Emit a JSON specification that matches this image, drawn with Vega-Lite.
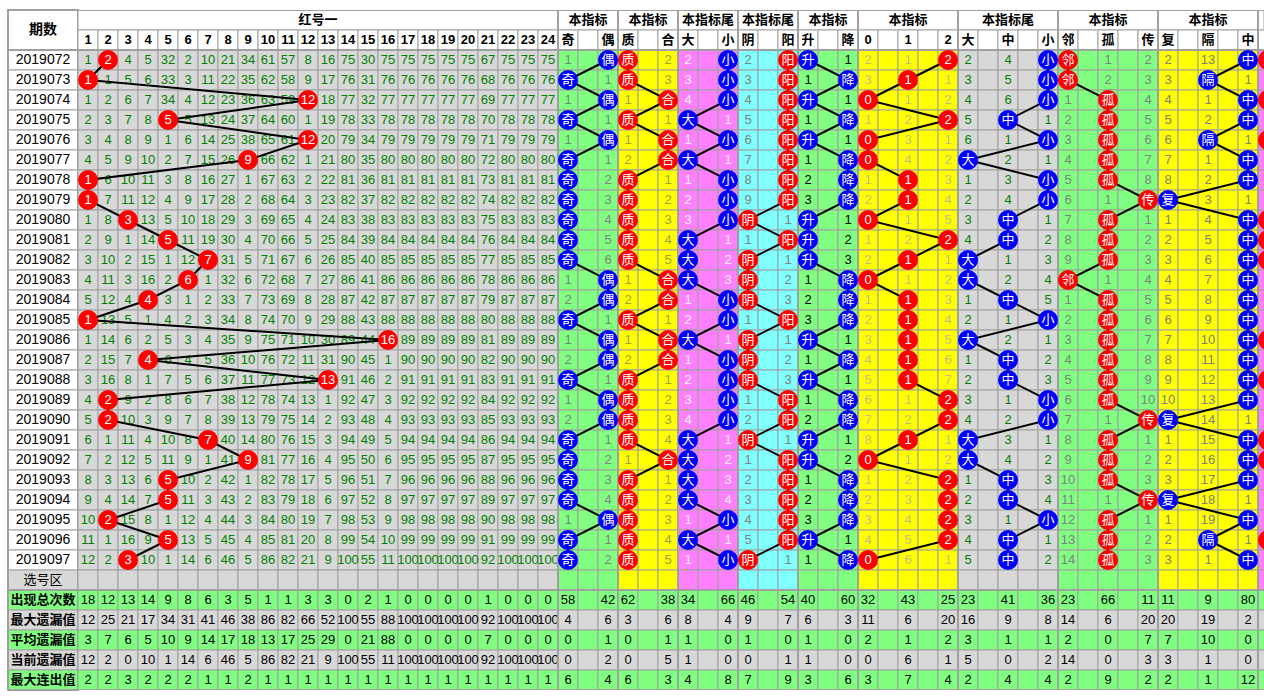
{
"$schema":"https://vega.github.io/schema/vega-lite/v6.json",
"padding":{"left":7,"top":9,"right":0,"bottom":0},
"background":"#ffffff",
"spacing":0,
"bounds":"flush",
"config":{"view":{"stroke":null},"text":{"baseline":"middle"}},
"datasets":{
"rows":[{"p":"H1","k":"head"},{"p":"H2","k":"head"},{"p":"2019072","k":"period"},{"p":"2019073","k":"period"},{"p":"2019074","k":"period"},{"p":"2019075","k":"period"},{"p":"2019076","k":"period"},{"p":"2019077","k":"period"},{"p":"2019078","k":"period"},{"p":"2019079","k":"period"},{"p":"2019080","k":"period"},{"p":"2019081","k":"period"},{"p":"2019082","k":"period"},{"p":"2019083","k":"period"},{"p":"2019084","k":"period"},{"p":"2019085","k":"period"},{"p":"2019086","k":"period"},{"p":"2019087","k":"period"},{"p":"2019088","k":"period"},{"p":"2019089","k":"period"},{"p":"2019090","k":"period"},{"p":"2019091","k":"period"},{"p":"2019092","k":"period"},{"p":"2019093","k":"period"},{"p":"2019094","k":"period"},{"p":"2019095","k":"period"},{"p":"2019096","k":"period"},{"p":"2019097","k":"period"},{"p":"选号区","k":"select"},{"p":"出现总次数","k":"stat"},{"p":"最大遗漏值","k":"stat"},{"p":"平均遗漏值","k":"stat"},{"p":"当前遗漏值","k":"stat"},{"p":"最大连出值","k":"stat"}],
"cols":[{"c":1,"g":"红"},{"c":2,"g":"红"},{"c":3,"g":"红"},{"c":4,"g":"红"},{"c":5,"g":"红"},{"c":6,"g":"红"},{"c":7,"g":"红"},{"c":8,"g":"红"},{"c":9,"g":"红"},{"c":10,"g":"红"},{"c":11,"g":"红"},{"c":12,"g":"红"},{"c":13,"g":"红"},{"c":14,"g":"红"},{"c":15,"g":"红"},{"c":16,"g":"红"},{"c":17,"g":"红"},{"c":18,"g":"红"},{"c":19,"g":"红"},{"c":20,"g":"红"},{"c":21,"g":"红"},{"c":22,"g":"红"},{"c":23,"g":"红"},{"c":24,"g":"红"},{"c":25,"g":"奇偶"},{"c":26,"g":"奇偶"},{"c":27,"g":"奇偶"},{"c":28,"g":"质合"},{"c":29,"g":"质合"},{"c":30,"g":"质合"},{"c":31,"g":"大小"},{"c":32,"g":"大小"},{"c":33,"g":"大小"},{"c":34,"g":"阴阳"},{"c":35,"g":"阴阳"},{"c":36,"g":"阴阳"},{"c":37,"g":"升降"},{"c":38,"g":"升降"},{"c":39,"g":"升降"},{"c":40,"g":"012"},{"c":41,"g":"012"},{"c":42,"g":"012"},{"c":43,"g":"012"},{"c":44,"g":"012"},{"c":45,"g":"大中小"},{"c":46,"g":"大中小"},{"c":47,"g":"大中小"},{"c":48,"g":"大中小"},{"c":49,"g":"大中小"},{"c":50,"g":"邻孤传"},{"c":51,"g":"邻孤传"},{"c":52,"g":"邻孤传"},{"c":53,"g":"邻孤传"},{"c":54,"g":"邻孤传"},{"c":55,"g":"复隔中"},{"c":56,"g":"复隔中"},{"c":57,"g":"复隔中"},{"c":58,"g":"复隔中"},{"c":59,"g":"复隔中"},{"c":60,"g":"下"}],
"tbl":[
{"p":"H2","v":["1","2","3","4","5","6","7","8","9","10","11","12","13","14","15","16","17","18","19","20","21","22","23","24","奇",null,"偶","质",null,"合","大",null,"小","阴",null,"阳","升",null,"降","0",null,"1",null,"2","大",null,"中",null,"小","邻",null,"孤",null,"传","复",null,"隔",null,"中",null]},
{"p":"2019072","v":[1,null,4,5,32,2,10,21,34,61,57,8,16,75,30,75,75,75,75,75,67,75,75,75,1,null,null,null,null,2,2,null,null,2,null,null,null,null,1,2,null,1,null,null,2,null,4,null,null,null,null,1,null,2,2,null,13,null,null,null]},
{"p":"2019073","v":[null,1,5,6,33,3,11,22,35,62,58,9,17,76,31,76,76,76,76,76,68,76,76,76,null,null,1,null,null,3,3,null,null,3,null,null,1,null,null,3,null,null,null,1,3,null,5,null,null,null,null,2,null,3,3,null,null,null,1,null]},
{"p":"2019074","v":[1,2,6,7,34,4,12,23,36,63,59,null,18,77,32,77,77,77,77,77,69,77,77,77,1,null,null,1,null,null,4,null,null,4,null,null,null,null,1,null,null,1,null,2,4,null,6,null,null,1,null,null,null,4,4,null,1,null,null,null]},
{"p":"2019075","v":[2,3,7,8,null,5,13,24,37,64,60,1,19,78,33,78,78,78,78,78,70,78,78,78,null,null,1,null,null,1,null,null,1,5,null,null,1,null,null,1,null,2,null,null,5,null,null,null,1,2,null,null,null,5,5,null,2,null,null,null]},
{"p":"2019076","v":[3,4,8,9,1,6,14,25,38,65,61,null,20,79,34,79,79,79,79,79,71,79,79,79,1,null,null,1,null,null,1,null,null,6,null,null,null,null,1,null,null,3,null,1,6,null,1,null,null,3,null,null,null,6,6,null,null,null,1,null]},
{"p":"2019077","v":[4,5,9,10,2,7,15,26,null,66,62,1,21,80,35,80,80,80,80,80,72,80,80,80,null,null,1,2,null,null,null,null,1,7,null,null,1,null,null,null,null,4,null,2,null,null,2,null,1,4,null,null,null,7,7,null,1,null,null,null]},
{"p":"2019078","v":[null,6,10,11,3,8,16,27,1,67,63,2,22,81,36,81,81,81,81,81,73,81,81,81,null,null,2,null,null,1,1,null,null,8,null,null,2,null,null,1,null,null,null,3,1,null,3,null,null,5,null,null,null,8,8,null,2,null,null,null]},
{"p":"2019079","v":[null,7,11,12,4,9,17,28,2,68,64,3,23,82,37,82,82,82,82,82,74,82,82,82,null,null,3,null,null,2,2,null,null,9,null,null,3,null,null,2,null,null,null,4,2,null,4,null,null,6,null,1,null,null,null,null,3,null,1,null]},
{"p":"2019080","v":[1,8,null,13,5,10,18,29,3,69,65,4,24,83,38,83,83,83,83,83,75,83,83,83,null,null,4,null,null,3,3,null,null,null,null,1,null,null,1,null,null,1,null,5,3,null,null,null,1,7,null,null,null,1,1,null,4,null,null,null]},
{"p":"2019081","v":[2,9,1,14,null,11,19,30,4,70,66,5,25,84,39,84,84,84,84,84,76,84,84,84,null,null,5,null,null,4,null,null,1,1,null,null,null,null,2,1,null,2,null,null,4,null,null,null,2,8,null,null,null,2,2,null,5,null,null,null]},
{"p":"2019082","v":[3,10,2,15,1,12,null,31,5,71,67,6,26,85,40,85,85,85,85,85,77,85,85,85,null,null,6,null,null,5,null,null,2,null,null,1,null,null,3,2,null,null,null,1,null,null,1,null,3,9,null,null,null,3,3,null,6,null,null,null]},
{"p":"2019083","v":[4,11,3,16,2,null,1,32,6,72,68,7,27,86,41,86,86,86,86,86,78,86,86,86,1,null,null,1,null,null,null,null,3,null,null,2,1,null,null,null,null,1,null,2,null,null,2,null,4,null,null,1,null,4,4,null,7,null,null,null]},
{"p":"2019084","v":[5,12,4,null,3,1,2,33,7,73,69,8,28,87,42,87,87,87,87,87,79,87,87,87,2,null,null,2,null,null,1,null,null,null,null,3,2,null,null,1,null,null,null,3,1,null,null,null,5,1,null,null,null,5,5,null,8,null,null,null]},
{"p":"2019085","v":[null,13,5,1,4,2,3,34,8,74,70,9,29,88,43,88,88,88,88,88,80,88,88,88,null,null,1,null,null,1,2,null,null,1,null,null,3,null,null,2,null,null,null,4,2,null,1,null,null,2,null,null,null,6,6,null,9,null,null,null]},
{"p":"2019086","v":[1,14,6,2,5,3,4,35,9,75,71,10,30,89,44,null,89,89,89,89,81,89,89,89,1,null,null,1,null,null,null,null,1,null,null,1,null,null,1,3,null,null,null,5,null,null,2,null,1,3,null,null,null,7,7,null,10,null,null,null]},
{"p":"2019087","v":[2,15,7,null,6,4,5,36,10,76,72,11,31,90,45,1,90,90,90,90,82,90,90,90,2,null,null,2,null,null,1,null,null,null,null,2,1,null,null,4,null,null,null,6,1,null,null,null,2,4,null,null,null,8,8,null,11,null,null,null]},
{"p":"2019088","v":[3,16,8,1,7,5,6,37,11,77,73,12,null,91,46,2,91,91,91,91,83,91,91,91,null,null,1,null,null,1,2,null,null,null,null,3,null,null,1,5,null,null,null,7,2,null,null,null,3,5,null,null,null,9,9,null,12,null,null,null]},
{"p":"2019089","v":[4,null,9,2,8,6,7,38,12,78,74,13,1,92,47,3,92,92,92,92,84,92,92,92,1,null,null,null,null,2,3,null,null,1,null,null,1,null,null,6,null,1,null,null,3,null,1,null,null,6,null,null,null,10,10,null,13,null,null,null]},
{"p":"2019090","v":[5,null,10,3,9,7,8,39,13,79,75,14,2,93,48,4,93,93,93,93,85,93,93,93,2,null,null,null,null,3,4,null,null,2,null,null,2,null,null,7,null,2,null,null,4,null,2,null,null,7,null,1,null,null,null,null,14,null,1,null]},
{"p":"2019091","v":[6,1,11,4,10,8,null,40,14,80,76,15,3,94,49,5,94,94,94,94,86,94,94,94,null,null,1,null,null,4,null,null,1,null,null,1,null,null,1,8,null,null,null,1,null,null,3,null,1,8,null,null,null,1,1,null,15,null,null,null]},
{"p":"2019092","v":[7,2,12,5,11,9,1,41,null,81,77,16,4,95,50,6,95,95,95,95,87,95,95,95,null,null,2,1,null,null,null,null,2,1,null,null,null,null,2,null,null,1,null,2,null,null,4,null,2,9,null,null,null,2,2,null,16,null,null,null]},
{"p":"2019093","v":[8,3,13,6,null,10,2,42,1,82,78,17,5,96,51,7,96,96,96,96,88,96,96,96,null,null,3,null,null,1,null,null,3,2,null,null,1,null,null,1,null,2,null,null,1,null,null,null,3,10,null,null,null,3,3,null,17,null,null,null]},
{"p":"2019094","v":[9,4,14,7,null,11,3,43,2,83,79,18,6,97,52,8,97,97,97,97,89,97,97,97,null,null,4,null,null,2,null,null,4,3,null,null,2,null,null,2,null,3,null,null,2,null,null,null,4,11,null,1,null,null,null,null,18,null,1,null]},
{"p":"2019095","v":[10,null,15,8,1,12,4,44,3,84,80,19,7,98,53,9,98,98,98,98,90,98,98,98,1,null,null,null,null,3,1,null,null,4,null,null,3,null,null,3,null,4,null,null,3,null,1,null,null,12,null,null,null,1,1,null,19,null,null,null]},
{"p":"2019096","v":[11,1,16,9,null,13,5,45,4,85,81,20,8,99,54,10,99,99,99,99,91,99,99,99,null,null,1,null,null,4,null,null,1,5,null,null,null,null,1,4,null,5,null,null,4,null,null,null,1,13,null,null,null,2,2,null,null,null,1,null]},
{"p":"2019097","v":[12,2,null,10,1,14,6,46,5,86,82,21,9,100,55,11,100,100,100,100,92,100,100,100,null,null,2,null,null,5,1,null,null,null,null,1,1,null,null,null,null,6,null,1,5,null,null,null,2,14,null,null,null,3,3,null,1,null,null,null]},
{"p":"选号区","v":[null,null,null,null,null,null,null,null,null,null,null,null,null,null,null,null,null,null,null,null,null,null,null,null,null,null,null,null,null,null,null,null,null,null,null,null,null,null,null,null,null,null,null,null,null,null,null,null,null,null,null,null,null,null,null,null,null,null,null,null]},
{"p":"出现总次数","v":[18,12,13,14,9,8,6,3,5,1,1,3,3,0,2,1,0,0,0,0,1,0,0,0,58,null,42,62,null,38,34,null,66,46,null,54,40,null,60,32,null,43,null,25,23,null,41,null,36,23,null,66,null,11,11,null,9,null,80,null]},
{"p":"最大遗漏值","v":[12,25,21,17,34,31,41,46,38,86,82,66,52,100,55,88,100,100,100,100,92,100,100,100,4,null,6,3,null,6,8,null,4,9,null,7,6,null,3,11,null,6,null,20,16,null,9,null,8,14,null,6,null,20,20,null,19,null,2,null]},
{"p":"平均遗漏值","v":[3,7,6,5,10,9,14,17,18,13,17,25,29,0,21,88,0,0,0,0,7,0,0,0,0,null,1,0,null,1,1,null,0,1,null,0,1,null,0,2,null,1,null,2,3,null,1,null,1,2,null,0,null,7,7,null,10,null,0,null]},
{"p":"当前遗漏值","v":[12,2,0,10,1,14,6,46,5,86,82,21,9,100,55,11,100,100,100,100,92,100,100,100,0,null,2,0,null,5,1,null,0,0,null,1,1,null,0,0,null,6,null,1,5,null,0,null,2,14,null,0,null,3,3,null,1,null,0,null]},
{"p":"最大连出值","v":[2,2,3,2,2,2,1,1,2,1,1,1,1,1,1,1,1,1,1,1,1,1,1,1,6,null,4,6,null,3,4,null,8,7,null,9,3,null,6,3,null,7,null,4,2,null,4,null,4,2,null,9,null,2,2,null,1,null,12,null]}
],
"hits":[
{"p":"2019072","hc":[2,27,28,33,36,37,44,49,50,59,60],"ht":["2","偶","质","小","阳","升","2","小","邻","中",""]},
{"p":"2019073","hc":[1,25,28,33,36,39,42,49,50,57],"ht":["1","奇","质","小","阳","降","1","小","邻","隔"]},
{"p":"2019074","hc":[12,27,30,33,36,37,40,49,52,59,60],"ht":["12","偶","合","小","阳","升","0","小","孤","中",""]},
{"p":"2019075","hc":[5,25,28,31,36,39,44,47,52,59],"ht":["5","奇","质","大","阳","降","2","中","孤","中"]},
{"p":"2019076","hc":[12,27,30,33,36,37,40,49,52,57,60],"ht":["12","偶","合","小","阳","升","0","小","孤","隔",""]},
{"p":"2019077","hc":[9,25,30,31,36,39,40,45,52,59],"ht":["9","奇","合","大","阳","降","0","大","孤","中"]},
{"p":"2019078","hc":[1,25,28,33,36,39,42,49,52,59],"ht":["1","奇","质","小","阳","降","1","小","孤","中"]},
{"p":"2019079","hc":[1,25,28,33,36,39,42,49,54,55],"ht":["1","奇","质","小","阳","降","1","小","传","复"]},
{"p":"2019080","hc":[3,25,28,33,34,37,40,47,52,59,60],"ht":["3","奇","质","小","阴","升","0","中","孤","中",""]},
{"p":"2019081","hc":[5,25,28,31,36,37,44,47,52,59,60],"ht":["5","奇","质","大","阳","升","2","中","孤","中",""]},
{"p":"2019082","hc":[7,25,28,31,34,37,42,45,52,59,60],"ht":["7","奇","质","大","阴","升","1","大","孤","中",""]},
{"p":"2019083","hc":[6,27,30,31,34,39,40,45,50,59],"ht":["6","偶","合","大","阴","降","0","大","邻","中"]},
{"p":"2019084","hc":[4,27,30,33,34,39,42,47,52,59],"ht":["4","偶","合","小","阴","降","1","中","孤","中"]},
{"p":"2019085","hc":[1,25,28,33,36,39,42,49,52,59],"ht":["1","奇","质","小","阳","降","1","小","孤","中"]},
{"p":"2019086","hc":[16,27,30,31,34,37,42,45,52,59,60],"ht":["16","偶","合","大","阴","升","1","大","孤","中",""]},
{"p":"2019087","hc":[4,27,30,33,34,39,42,47,52,59],"ht":["4","偶","合","小","阴","降","1","中","孤","中"]},
{"p":"2019088","hc":[13,25,28,33,34,37,42,47,52,59,60],"ht":["13","奇","质","小","阴","升","1","中","孤","中",""]},
{"p":"2019089","hc":[2,27,28,33,36,39,44,49,52,59],"ht":["2","偶","质","小","阳","降","2","小","孤","中"]},
{"p":"2019090","hc":[2,27,28,33,36,39,44,49,54,55],"ht":["2","偶","质","小","阳","降","2","小","传","复"]},
{"p":"2019091","hc":[7,25,28,31,34,37,42,45,52,59,60],"ht":["7","奇","质","大","阴","升","1","大","孤","中",""]},
{"p":"2019092","hc":[9,25,30,31,36,37,40,45,52,59,60],"ht":["9","奇","合","大","阳","升","0","大","孤","中",""]},
{"p":"2019093","hc":[5,25,28,31,36,39,44,47,52,59],"ht":["5","奇","质","大","阳","降","2","中","孤","中"]},
{"p":"2019094","hc":[5,25,28,31,36,39,44,47,54,55],"ht":["5","奇","质","大","阳","降","2","中","传","复"]},
{"p":"2019095","hc":[2,27,28,33,36,39,44,49,52,59],"ht":["2","偶","质","小","阳","降","2","小","孤","中"]},
{"p":"2019096","hc":[5,25,28,31,36,37,44,47,52,57,60],"ht":["5","奇","质","大","阳","升","2","中","孤","隔",""]},
{"p":"2019097","hc":[3,25,28,33,34,39,40,47,52,59],"ht":["3","奇","质","小","阴","降","0","中","孤","中"]}
]
},
"hconcat":[
{
"width":70,"height":680,
"layer":[
{"data":{"name":"rows"},
 "mark":{"type":"rect","stroke":"#A0A0A0","strokeWidth":1},
 "encoding":{
  "y":{"field":"p","type":"ordinal","scale":{"type":"band","domain":["H1","H2","2019072","2019073","2019074","2019075","2019076","2019077","2019078","2019079","2019080","2019081","2019082","2019083","2019084","2019085","2019086","2019087","2019088","2019089","2019090","2019091","2019092","2019093","2019094","2019095","2019096","2019097","选号区","出现总次数","最大遗漏值","平均遗漏值","当前遗漏值","最大连出值"],"paddingInner":0,"paddingOuter":0},"axis":null},
  "fill":{"condition":[{"test":"datum.k=='period'||datum.k=='head'","value":"#FFFFFF"},{"test":"datum.p=='出现总次数'||datum.p=='平均遗漏值'||datum.p=='最大连出值'","value":"#80FF80"}],"value":"#D8D8D8"},
  "strokeOpacity":{"condition":{"test":"datum.k=='head'","value":0},"value":1}}},
{"data":{"name":"rows"},"transform":[{"filter":"datum.k=='period'"}],
 "mark":{"type":"text","font":"Liberation Sans","fontSize":14,"color":"#000000"},
 "encoding":{"y":{"field":"p","type":"ordinal","scale":{"type":"band","domain":["H1","H2","2019072","2019073","2019074","2019075","2019076","2019077","2019078","2019079","2019080","2019081","2019082","2019083","2019084","2019085","2019086","2019087","2019088","2019089","2019090","2019091","2019092","2019093","2019094","2019095","2019096","2019097","选号区","出现总次数","最大遗漏值","平均遗漏值","当前遗漏值","最大连出值"],"paddingInner":0,"paddingOuter":0},"axis":null},"text":{"field":"p"}}},
{"data":{"name":"rows"},"transform":[{"filter":"datum.k=='select'"}],
 "mark":{"type":"text","font":"Noto Sans CJK SC","fontSize":13,"color":"#000000"},
 "encoding":{"y":{"field":"p","type":"ordinal","scale":{"type":"band","domain":["H1","H2","2019072","2019073","2019074","2019075","2019076","2019077","2019078","2019079","2019080","2019081","2019082","2019083","2019084","2019085","2019086","2019087","2019088","2019089","2019090","2019091","2019092","2019093","2019094","2019095","2019096","2019097","选号区","出现总次数","最大遗漏值","平均遗漏值","当前遗漏值","最大连出值"],"paddingInner":0,"paddingOuter":0},"axis":null},"text":{"field":"p"}}},
{"data":{"name":"rows"},"transform":[{"filter":"datum.k=='stat'"}],
 "mark":{"type":"text","font":"Noto Sans CJK SC","fontSize":13,"fontWeight":"bold","color":"#000000"},
 "encoding":{"y":{"field":"p","type":"ordinal","scale":{"type":"band","domain":["H1","H2","2019072","2019073","2019074","2019075","2019076","2019077","2019078","2019079","2019080","2019081","2019082","2019083","2019084","2019085","2019086","2019087","2019088","2019089","2019090","2019091","2019092","2019093","2019094","2019095","2019096","2019097","选号区","出现总次数","最大遗漏值","平均遗漏值","当前遗漏值","最大连出值"],"paddingInner":0,"paddingOuter":0},"axis":null},"text":{"field":"p"}}},
{"data":{"values":[{"p":"H1","t":"期数"}]},
 "mark":{"type":"text","font":"Noto Sans CJK SC","fontSize":14,"fontWeight":"bold","color":"#000000"},
 "encoding":{"y":{"field":"p","type":"ordinal","bandPosition":1,"scale":{"type":"band","domain":["H1","H2","2019072","2019073","2019074","2019075","2019076","2019077","2019078","2019079","2019080","2019081","2019082","2019083","2019084","2019085","2019086","2019087","2019088","2019089","2019090","2019091","2019092","2019093","2019094","2019095","2019096","2019097","选号区","出现总次数","最大遗漏值","平均遗漏值","当前遗漏值","最大连出值"],"paddingInner":0,"paddingOuter":0},"axis":null},"text":{"field":"t"}}},
{"data":{"values":[{"p":"2019072"},{"p":"出现总次数"}]},
 "mark":{"type":"rule","color":"#A0A0A0","strokeWidth":2},
 "encoding":{"y":{"field":"p","type":"ordinal","bandPosition":0,"scale":{"type":"band","domain":["H1","H2","2019072","2019073","2019074","2019075","2019076","2019077","2019078","2019079","2019080","2019081","2019082","2019083","2019084","2019085","2019086","2019087","2019088","2019089","2019090","2019091","2019092","2019093","2019094","2019095","2019096","2019097","选号区","出现总次数","最大遗漏值","平均遗漏值","当前遗漏值","最大连出值"],"paddingInner":0,"paddingOuter":0},"axis":null}}},
{"data":{"values":[{"p":"frame"}]},
 "mark":{"type":"rect","fillOpacity":0,"stroke":"#A0A0A0","strokeWidth":2},
 "encoding":{}}
]
},
{
"width":1186,"height":680,
"resolve":{"scale":{"fill":"independent","color":"independent"}},
"layer":[
{"data":{"values":[{"p":"H1"}]},
 "mark":{"type":"rect","fill":"#FFFFFF","stroke":"#A0A0A0","strokeWidth":1,"clip":true},
 "encoding":{"y":{"field":"p","type":"ordinal","scale":{"type":"band","domain":["H1","H2","2019072","2019073","2019074","2019075","2019076","2019077","2019078","2019079","2019080","2019081","2019082","2019083","2019084","2019085","2019086","2019087","2019088","2019089","2019090","2019091","2019092","2019093","2019094","2019095","2019096","2019097","选号区","出现总次数","最大遗漏值","平均遗漏值","当前遗漏值","最大连出值"],"paddingInner":0,"paddingOuter":0},"axis":null}}},
{"data":{"name":"tbl"},
 "transform":[{"flatten":["v"]},{"window":[{"op":"row_number","as":"c"}],"groupby":["p"]},{"lookup":"c","from":{"data":{"name":"cols"},"key":"c","fields":["g"]}}],
 "encoding":{
  "x":{"field":"c","type":"ordinal","scale":{"type":"band","domain":[1,2,3,4,5,6,7,8,9,10,11,12,13,14,15,16,17,18,19,20,21,22,23,24,25,26,27,28,29,30,31,32,33,34,35,36,37,38,39,40,41,42,43,44,45,46,47,48,49,50,51,52,53,54,55,56,57,58,59,60],"range":[0,1200],"paddingInner":0,"paddingOuter":0},"axis":null},
  "y":{"field":"p","type":"ordinal","scale":{"type":"band","domain":["H1","H2","2019072","2019073","2019074","2019075","2019076","2019077","2019078","2019079","2019080","2019081","2019082","2019083","2019084","2019085","2019086","2019087","2019088","2019089","2019090","2019091","2019092","2019093","2019094","2019095","2019096","2019097","选号区","出现总次数","最大遗漏值","平均遗漏值","当前遗漏值","最大连出值"],"paddingInner":0,"paddingOuter":0},"axis":null}},
 "layer":[
  {"mark":{"type":"rect","stroke":"#A0A0A0","strokeWidth":1,"clip":true},
   "encoding":{"fill":{"condition":[{"test":"datum.p=='H2'","value":"#FFFFFF"},{"test":"datum.p=='出现总次数'||datum.p=='平均遗漏值'||datum.p=='最大连出值'","value":"#80FF80"},{"test":"datum.p=='最大遗漏值'||datum.p=='当前遗漏值'","value":"#D8D8D8"}],"field":"g","type":"nominal","scale":{"domain":["红","奇偶","质合","大小","阴阳","升降","012","大中小","邻孤传","复隔中","下"],"range":["#D8D8D8","#80FF80","#FFFF00","#FF80FF","#80FFFF","#80FF80","#FFFF00","#D8D8D8","#80FF80","#FFFF00","#FF80FF"]},"legend":null}}},
  {"transform":[{"filter":"datum.p!='H2' && isValid(datum.v)"}],
   "mark":{"type":"text","font":"Liberation Sans Narrow, Liberation Sans","fontSize":13,"clip":true},
   "encoding":{"text":{"field":"v"},"color":{"condition":{"test":"datum.p=='出现总次数'||datum.p=='平均遗漏值'||datum.p=='最大连出值'||datum.p=='最大遗漏值'||datum.p=='当前遗漏值'","value":"#000000"},"field":"g","type":"nominal","scale":{"domain":["红","奇偶","质合","大小","阴阳","升降","012","大中小","邻孤传","复隔中","下"],"range":["#008000","#808080","#A09C50","#F4F4F4","#808080","#000000","#C4BC90","#008000","#808080","#808080","#808080"]},"legend":null}}},
  {"transform":[{"filter":"datum.p=='H2' && isValid(datum.v)"}],
   "mark":{"type":"text","font":"Liberation Sans, Noto Sans CJK SC","fontSize":13,"fontWeight":"bold","color":"#000000","clip":true},
   "encoding":{"text":{"field":"v"}}}
 ]},
{"data":{"values":[{"c":25},{"c":28},{"c":31},{"c":34},{"c":37},{"c":40},{"c":45},{"c":50},{"c":55},{"c":60}]},
 "mark":{"type":"rule","color":"#A0A0A0","strokeWidth":2,"clip":true},
 "encoding":{"x":{"field":"c","type":"ordinal","bandPosition":0,"scale":{"type":"band","domain":[1,2,3,4,5,6,7,8,9,10,11,12,13,14,15,16,17,18,19,20,21,22,23,24,25,26,27,28,29,30,31,32,33,34,35,36,37,38,39,40,41,42,43,44,45,46,47,48,49,50,51,52,53,54,55,56,57,58,59,60],"range":[0,1200],"paddingInner":0,"paddingOuter":0},"axis":null}}},
{"data":{"values":[{"p":"H1"},{"p":"2019072"},{"p":"出现总次数"}]},
 "mark":{"type":"rule","color":"#A0A0A0","strokeWidth":2,"clip":true},
 "encoding":{"y":{"field":"p","type":"ordinal","bandPosition":0,"scale":{"type":"band","domain":["H1","H2","2019072","2019073","2019074","2019075","2019076","2019077","2019078","2019079","2019080","2019081","2019082","2019083","2019084","2019085","2019086","2019087","2019088","2019089","2019090","2019091","2019092","2019093","2019094","2019095","2019096","2019097","选号区","出现总次数","最大遗漏值","平均遗漏值","当前遗漏值","最大连出值"],"paddingInner":0,"paddingOuter":0},"axis":null}}},
{"data":{"values":[{"p":"最大连出值"}]},
 "mark":{"type":"rule","color":"#A0A0A0","strokeWidth":2,"clip":true},
 "encoding":{"y":{"field":"p","type":"ordinal","bandPosition":1,"scale":{"type":"band","domain":["H1","H2","2019072","2019073","2019074","2019075","2019076","2019077","2019078","2019079","2019080","2019081","2019082","2019083","2019084","2019085","2019086","2019087","2019088","2019089","2019090","2019091","2019092","2019093","2019094","2019095","2019096","2019097","选号区","出现总次数","最大遗漏值","平均遗漏值","当前遗漏值","最大连出值"],"paddingInner":0,"paddingOuter":0},"axis":null}}},
{"data":{"values":[{"c":26,"p":"H1","t":"本指标"},{"c":29,"p":"H1","t":"本指标"},{"c":32,"p":"H1","t":"本指标尾"},{"c":35,"p":"H1","t":"本指标尾"},{"c":38,"p":"H1","t":"本指标"},{"c":42,"p":"H1","t":"本指标"},{"c":47,"p":"H1","t":"本指标尾"},{"c":52,"p":"H1","t":"本指标"},{"c":57,"p":"H1","t":"本指标"}]},
 "mark":{"type":"text","font":"Noto Sans CJK SC","fontSize":13,"fontWeight":"bold","color":"#000000"},
 "encoding":{
  "x":{"field":"c","type":"ordinal","scale":{"type":"band","domain":[1,2,3,4,5,6,7,8,9,10,11,12,13,14,15,16,17,18,19,20,21,22,23,24,25,26,27,28,29,30,31,32,33,34,35,36,37,38,39,40,41,42,43,44,45,46,47,48,49,50,51,52,53,54,55,56,57,58,59,60],"range":[0,1200],"paddingInner":0,"paddingOuter":0},"axis":null},
  "y":{"field":"p","type":"ordinal","scale":{"type":"band","domain":["H1","H2","2019072","2019073","2019074","2019075","2019076","2019077","2019078","2019079","2019080","2019081","2019082","2019083","2019084","2019085","2019086","2019087","2019088","2019089","2019090","2019091","2019092","2019093","2019094","2019095","2019096","2019097","选号区","出现总次数","最大遗漏值","平均遗漏值","当前遗漏值","最大连出值"],"paddingInner":0,"paddingOuter":0},"axis":null},
  "text":{"field":"t"}}},
{"data":{"values":[{"c":12,"p":"H1","t":"红号一"}]},
 "mark":{"type":"text","font":"Noto Sans CJK SC","fontSize":13,"fontWeight":"bold","color":"#000000"},
 "encoding":{
  "x":{"field":"c","type":"ordinal","bandPosition":1,"scale":{"type":"band","domain":[1,2,3,4,5,6,7,8,9,10,11,12,13,14,15,16,17,18,19,20,21,22,23,24,25,26,27,28,29,30,31,32,33,34,35,36,37,38,39,40,41,42,43,44,45,46,47,48,49,50,51,52,53,54,55,56,57,58,59,60],"range":[0,1200],"paddingInner":0,"paddingOuter":0},"axis":null},
  "y":{"field":"p","type":"ordinal","scale":{"type":"band","domain":["H1","H2","2019072","2019073","2019074","2019075","2019076","2019077","2019078","2019079","2019080","2019081","2019082","2019083","2019084","2019085","2019086","2019087","2019088","2019089","2019090","2019091","2019092","2019093","2019094","2019095","2019096","2019097","选号区","出现总次数","最大遗漏值","平均遗漏值","当前遗漏值","最大连出值"],"paddingInner":0,"paddingOuter":0},"axis":null},
  "text":{"field":"t"}}},
{"data":{"name":"hits"},
 "transform":[{"flatten":["hc","ht"]},{"lookup":"hc","from":{"data":{"name":"cols"},"key":"c","fields":["g"]}}],
 "encoding":{
  "x":{"field":"hc","type":"ordinal","scale":{"type":"band","domain":[1,2,3,4,5,6,7,8,9,10,11,12,13,14,15,16,17,18,19,20,21,22,23,24,25,26,27,28,29,30,31,32,33,34,35,36,37,38,39,40,41,42,43,44,45,46,47,48,49,50,51,52,53,54,55,56,57,58,59,60],"range":[0,1200],"paddingInner":0,"paddingOuter":0},"axis":null},
  "y":{"field":"p","type":"ordinal","scale":{"type":"band","domain":["H1","H2","2019072","2019073","2019074","2019075","2019076","2019077","2019078","2019079","2019080","2019081","2019082","2019083","2019084","2019085","2019086","2019087","2019088","2019089","2019090","2019091","2019092","2019093","2019094","2019095","2019096","2019097","选号区","出现总次数","最大遗漏值","平均遗漏值","当前遗漏值","最大连出值"],"paddingInner":0,"paddingOuter":0},"axis":null}},
 "layer":[
  {"mark":{"type":"line","color":"#000000","strokeWidth":2,"clip":true},
   "encoding":{"detail":{"field":"g"},"order":{"field":"p","type":"ordinal"}}},
  {"mark":{"type":"point","shape":"circle","filled":true,"size":400,"opacity":1,"clip":true},
   "encoding":{"fill":{"field":"g","type":"nominal","scale":{"domain":["红","奇偶","质合","大小","阴阳","升降","012","大中小","邻孤传","复隔中","下"],"range":["#FF0000","#0000FF","#FF0000","#0000FF","#FF0000","#0000FF","#FF0000","#0000FF","#FF0000","#0000FF","#FF0000"]},"legend":null}}},
  {"mark":{"type":"text","font":"Liberation Sans, Noto Sans CJK SC","fontSize":13,"color":"#FFFFFF","clip":true},
   "encoding":{"text":{"field":"ht"}}}
 ]}
]
}
]
}
